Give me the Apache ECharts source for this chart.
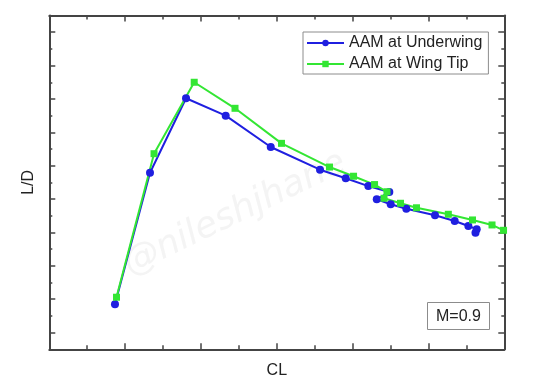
<!DOCTYPE html>
<html>
<head>
<meta charset="utf-8">
<script src="https://cdn.jsdelivr.net/npm/echarts@6/dist/echarts.min.js"></script>
<style>html,body{margin:0;padding:0;background:#fff;}#c{width:551px;height:389px;}</style>
</head>
<body>
<div id="c"></div>
<script>
// Data (axis units; the original axes have no numeric labels)
var underwingCL = [0.866, 1.328, 1.803, 2.326, 2.920, 3.570, 3.909, 4.207, 4.484, 4.318, 4.502, 4.708, 5.086, 5.346, 5.526, 5.636, 5.620];
var underwingLD = [2.70, 10.58, 15.04, 14.00, 12.12, 10.76, 10.25, 9.78, 9.42, 8.99, 8.69, 8.42, 8.03, 7.69, 7.39, 7.20, 6.99];
var wingTipCL = [0.886, 1.381, 1.911, 2.449, 3.062, 3.695, 4.012, 4.289, 4.453, 4.414, 4.631, 4.842, 5.262, 5.581, 5.838, 5.990];
var wingTipLD = [3.12, 11.72, 16.00, 14.44, 12.34, 10.92, 10.37, 9.87, 9.44, 9.05, 8.75, 8.48, 8.09, 7.75, 7.45, 7.13];
var seriesNames = ['AAM at Underwing', 'AAM at Wing Tip'];
var xTitle = 'CL';
var yTitle = 'L/D';
var machLabel = 'M=0.9';
var watermark = '@nileshjhane';

function pairs(xs, ys) { return xs.map(function (x, i) { return [x, ys[i]]; }); }

var FONT = '"Liberation Sans", Arial, sans-serif';
var FRAME = '#444444';
var BLUE = '#1f1fe0';
var GREEN = '#33e633';

function xAxisCfg(pos, withName) {
  return {
    type: 'value', position: pos, min: 0, max: 6, interval: 1,
    name: withName ? xTitle : '', nameLocation: 'middle', nameGap: 13,
    nameTextStyle: { fontFamily: FONT, fontSize: 16, color: '#222', verticalAlign: 'top' },
    axisLine: { show: true, onZero: false, lineStyle: { color: FRAME, width: 2 } },
    axisTick: { show: true, inside: true, length: 6, lineStyle: { color: FRAME, width: 1.5 } },
    minorTick: { show: true, splitNumber: 2, length: 4, lineStyle: { color: FRAME, width: 1.5 } },
    axisLabel: { show: false }, splitLine: { show: false }
  };
}
function yAxisCfg(pos, withName) {
  return {
    type: 'value', position: pos, min: 0, max: 20, interval: 2,
    name: withName ? yTitle : '', nameLocation: 'middle', nameGap: 13, nameRotate: 90,
    nameTextStyle: { fontFamily: FONT, fontSize: 16, color: '#222' },
    axisLine: { show: true, onZero: false, lineStyle: { color: FRAME, width: 2 } },
    axisTick: { show: true, inside: true, length: 3, lineStyle: { color: FRAME, width: 1.5 } },
    minorTick: { show: true, splitNumber: 2, length: 6, lineStyle: { color: FRAME, width: 1.5 } },
    axisLabel: { show: false }, splitLine: { show: false }
  };
}

var chart = echarts.init(document.getElementById('c'), null, { renderer: 'canvas' });
chart.setOption({
  animation: false,
  backgroundColor: '#fff',
  grid: { left: 49.3, top: 15.5, right: 46.7, bottom: 39.7, containLabel: false },
  xAxis: [xAxisCfg('bottom', true), xAxisCfg('top', false)],
  yAxis: [yAxisCfg('left', true), yAxisCfg('right', false)],
  legend: {
    orient: 'vertical', left: 303, top: 32,
    borderColor: '#8c8c8c', borderWidth: 1, borderRadius: 0,
    padding: [3, 6, 2, 3], itemWidth: 37, itemHeight: 8, itemGap: 5,
    textStyle: { fontFamily: FONT, fontSize: 16, color: '#222' },
    data: seriesNames
  },
  graphic: [
    {
      type: 'text', left: 228 - 110, top: 165 - 20, rotation: 0.45, z: 0,
      style: { text: watermark, fontFamily: '"DejaVu Sans", sans-serif', fontSize: 36, fontStyle: 'italic', fill: 'rgba(200,200,200,0.2)' }
    },
    {
      type: 'group', left: 427, top: 302, z: 10,
      children: [
        { type: 'rect', shape: { x: 0, y: 0, width: 62, height: 27 }, style: { fill: '#fff', stroke: '#8c8c8c', lineWidth: 1 } },
        { type: 'text', x: 31, y: 14, style: { text: machLabel, fontFamily: FONT, fontSize: 16, fill: '#222', align: 'center', verticalAlign: 'middle' } }
      ]
    }
  ],
  series: [
    {
      name: seriesNames[0], type: 'line', data: pairs(underwingCL, underwingLD),
      symbol: 'circle', symbolSize: 8, clip: false,
      lineStyle: { color: BLUE, width: 2 }, itemStyle: { color: BLUE }
    },
    {
      name: seriesNames[1], type: 'line', data: pairs(wingTipCL, wingTipLD),
      symbol: 'rect', symbolSize: 7, clip: false,
      lineStyle: { color: GREEN, width: 2 }, itemStyle: { color: GREEN }
    }
  ]
});
</script>
</body>
</html>
